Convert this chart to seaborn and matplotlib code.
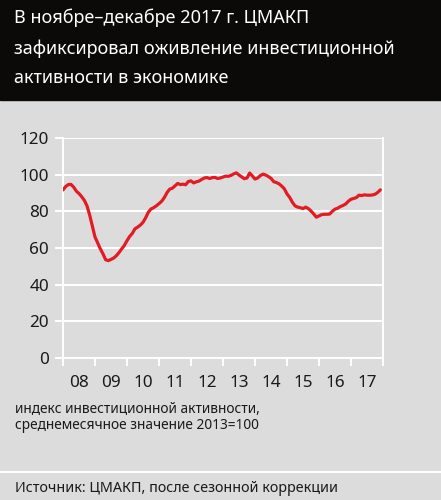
import numpy as np
import pandas as pd
import matplotlib
matplotlib.use("Agg")
import matplotlib.pyplot as plt
import seaborn as sns

# индекс инвестиционной активности ЦМАКП, по месяцам 2008-2017
years = list(range(2008, 2018))
v2008 = [91.7, 93.5, 94.6, 94.7, 93.2, 91.0, 89.7, 88.0, 86.0, 83.0, 78.0, 72.0]
v2009 = [66.0, 62.8, 59.5, 56.8, 53.6, 53.1, 53.8, 54.5, 55.8, 57.5, 59.5, 61.4]
v2010 = [64.0, 66.3, 68.0, 70.5, 71.4, 72.5, 74.0, 76.5, 79.5, 81.3, 82.0, 83.0]
v2011 = [84.2, 85.5, 87.5, 90.2, 92.1, 92.6, 93.9, 95.2, 94.6, 94.8, 94.5, 96.3]
v2012 = [96.6, 95.5, 96.1, 96.5, 97.4, 98.2, 98.4, 97.9, 98.4, 98.5, 97.9, 98.2]
v2013 = [98.7, 99.2, 99.1, 99.6, 100.4, 101.0, 99.8, 98.8, 97.8, 98.2, 100.9, 99.3]
v2014 = [97.6, 98.2, 99.5, 100.3, 99.8, 99.0, 98.0, 96.2, 95.7, 95.0, 93.8, 92.3]
v2015 = [89.5, 87.6, 85.0, 83.0, 82.3, 82.0, 81.5, 82.3, 81.5, 80.2, 78.6, 76.8]
v2016 = [77.5, 78.2, 78.4, 78.4, 78.5, 80.0, 81.2, 81.7, 82.6, 83.2, 84.0, 85.5]
v2017 = [86.6, 87.0, 87.5, 88.8, 88.6, 89.0, 88.8, 88.8, 88.9, 89.3, 90.3, 91.7]
year_labels = ["08", "09", "10", "11", "12", "13", "14", "15", "16", "17"]
y_ticks = [0, 20, 40, 60, 80, 100, 120]

title = "В ноябре–декабре 2017 г. ЦМАКП\nзафиксировал оживление инвестиционной\nактивности в экономике"
note = "индекс инвестиционной активности,\nсреднемесячное значение 2013=100"
source = "Источник: ЦМАКП, после сезонной коррекции"

values = v2008 + v2009 + v2010 + v2011 + v2012 + v2013 + v2014 + v2015 + v2016 + v2017
df = pd.DataFrame({
    "t": [y + m / 12 for y in years for m in range(12)],
    "index": values,
})

bg = "#dcdcdd"
ink = "#1a1a1a"
sns.set_theme(style="white", rc={"axes.facecolor": bg, "figure.facecolor": bg})
plt.rcParams["font.family"] = ["Noto Sans", "DejaVu Sans"]
plt.rcParams["font.stretch"] = "condensed"
plt.rcParams["font.weight"] = "normal"

fig = plt.figure(figsize=(4.41, 5.00), dpi=100)
ax = fig.add_axes([63 / 441, 1 - 358 / 500, 320 / 441, 220 / 500])

# шапка
fig.patches.append(plt.Rectangle((0, 1 - 100 / 500), 1, 100 / 500, transform=fig.transFigure,
                                 color="#0c0909", zorder=0))
fig.text(14 / 441, 1 - 9 / 500, title, color="white", fontsize=13, va="top", ha="left",
         linespacing=1.8, stretch="condensed")

for y in y_ticks[1:]:
    ax.axhline(y, color="white", lw=1.4, zorder=1)

sns.lineplot(data=df, x="t", y="index", color="#e31b23", lw=2.3, ax=ax, zorder=3)

ax.set_xlim(2008, 2018)
ax.set_ylim(0, 120)
ax.set_xticks(range(2008, 2019))
ax.set_xticklabels([])
ax.set_xticks([y + 0.5 for y in years], minor=True)
ax.set_xticklabels(year_labels, minor=True)
ax.set_yticks(y_ticks)
ax.set_yticklabels([str(v) for v in y_ticks])
ax.set_xlabel("")
ax.set_ylabel("")
for lab in ax.get_xticklabels(minor=True) + ax.get_yticklabels():
    lab.set_stretch("condensed")

ax.tick_params(axis="x", which="major", length=6, width=1.4, color="white", direction="out")
ax.tick_params(axis="x", which="minor", length=0, pad=12, labelsize=12.3, labelcolor=ink)
ax.tick_params(axis="y", length=6, width=1.4, color="white", direction="out", pad=4,
               labelsize=12.3, labelcolor=ink)
ax.tick_params(bottom=True, left=True)

for side in ["left", "right", "bottom"]:
    ax.spines[side].set_visible(True)
    ax.spines[side].set_color("white")
    ax.spines[side].set_linewidth(1.4)
ax.spines["top"].set_visible(False)

fig.text(15 / 441, 1 - 402 / 500, note, color=ink, fontsize=9.9, va="top", ha="left",
         linespacing=1.12, stretch="condensed")
fig.add_artist(plt.Line2D([0, 1], [1 - 472 / 500, 1 - 472 / 500], transform=fig.transFigure,
                          color="white", lw=1.5))
fig.text(15 / 441, 1 - 489 / 500, source, color=ink, fontsize=10.3, va="center", ha="left",
         stretch="condensed")

fig.savefig("out.png", dpi=100, facecolor=bg)
